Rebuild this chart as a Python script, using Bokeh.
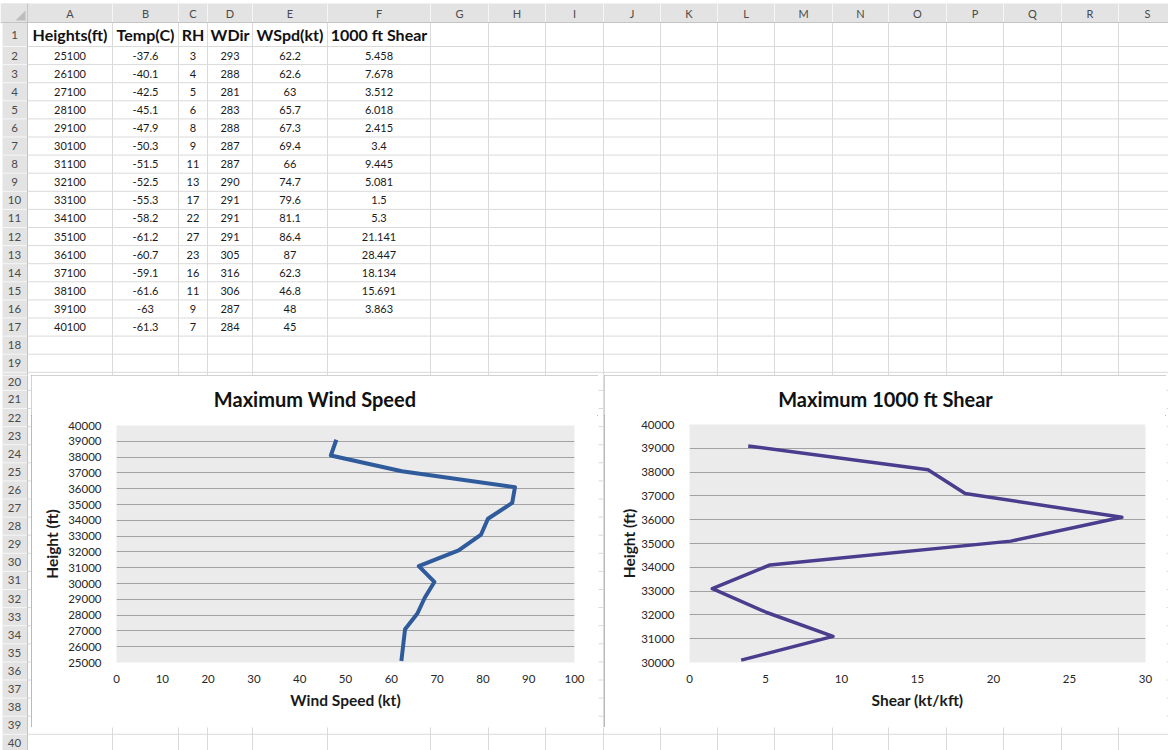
from bokeh.plotting import figure
from bokeh.layouts import column, row
from bokeh.models import Range1d, FixedTicker
from bokeh.core.properties import value
from bokeh.embed import file_html
from bokeh.resources import INLINE

# ---------------- data ----------------
heights = [25100, 26100, 27100, 28100, 29100, 30100, 31100, 32100,
           33100, 34100, 35100, 36100, 37100, 38100, 39100, 40100]
temp_c = [-37.6, -40.1, -42.5, -45.1, -47.9, -50.3, -51.5, -52.5,
          -55.3, -58.2, -61.2, -60.7, -59.1, -61.6, -63, -61.3]
rh = [3, 4, 5, 6, 8, 9, 11, 13, 17, 22, 27, 23, 16, 11, 9, 7]
wdir = [293, 288, 281, 283, 288, 287, 287, 290, 291, 291, 291, 305, 316, 306, 287, 284]
wspd = [62.2, 62.6, 63, 65.7, 67.3, 69.4, 66, 74.7, 79.6, 81.1, 86.4, 87, 62.3, 46.8, 48, 45]
shear = [5.458, 7.678, 3.512, 6.018, 2.415, 3.4, 9.445, 5.081, 1.5, 5.3,
         21.141, 28.447, 18.134, 15.691, 3.863]
col_titles = ["Heights(ft)", "Temp(C)", "RH", "WDir", "WSpd(kt)", "1000 ft Shear"]
col_letters = ["A", "B", "C", "D", "E", "F", "G", "H", "I", "J", "K", "L",
               "M", "N", "O", "P", "Q", "R", "S"]

wind_yticks = list(range(25000, 40001, 1000))
wind_xticks = list(range(0, 101, 10))
shear_yticks = list(range(30000, 40001, 1000))
shear_xticks = list(range(0, 31, 5))

# rows plotted in each chart
wind_h, wind_v = heights[:15], wspd[:15]
shear_h, shear_v = heights[5:15], shear[5:15]

# ---------------- sheet geometry (pixels) ----------------
col_edges = [27, 112, 178, 207, 252, 327, 430, 488, 545, 603, 660, 717, 774,
             832, 888, 946, 1003, 1061, 1118, 1176]
HDR_TOP, HDR_BOT, ROW1_BOT, ROW_H = 3, 22, 46, 18.1
row_edges = [HDR_BOT, ROW1_BOT] + [ROW1_BOT + k * ROW_H for k in range(1, 40)]
row_centers = [(row_edges[i] + row_edges[i + 1]) / 2 for i in range(len(row_edges) - 1)]
col_centers = [(col_edges[i] + col_edges[i + 1]) / 2 for i in range(len(col_edges) - 1)]
FONT = "Lato"
BOX_OUTLINE = {"outline": "1px solid #a3a3a3", "outline-offset": "-1px"}


def fmt(v):
    return "{:g}".format(v)


def blank(f):
    f.axis.visible = False
    f.grid.visible = False
    f.outline_line_color = None
    f.background_fill_color = "white"
    f.border_fill_color = "white"


def sheet(x0, x1, y0, y1):
    f = figure(width=x1 - x0, height=y1 - y0, x_range=Range1d(x0, x1), y_range=Range1d(y1, y0),
               output_backend="svg", toolbar_location=None, min_border=0, frame_align=False)
    blank(f)

    def inside(x, y):
        return x0 <= x <= x1 and y0 <= y <= y1

    def texts(xs, ys, ts, **kw):
        sel = [(x, y, t) for x, y, t in zip(xs, ys, ts) if inside(x, y)]
        if sel:
            f.text(x=[s[0] for s in sel], y=[s[1] for s in sel], text=[s[2] for s in sel],
                   text_font=value(FONT), text_align="center", text_baseline="middle", **kw)

    # header bands
    f.quad(left=[0], right=[1200], top=[HDR_TOP], bottom=[HDR_BOT],
           fill_color="#e3e3e3", line_color=None)
    f.quad(left=[2], right=[col_edges[0]], top=[HDR_TOP], bottom=[800],
           fill_color="#e3e3e3", line_color=None)
    # cell grid
    n = len(col_edges)
    f.segment(x0=col_edges, y0=[HDR_BOT] * n, x1=col_edges, y1=[800] * n,
              line_color="#dadada", line_width=1)
    m = len(row_edges)
    f.segment(x0=[col_edges[0]] * m, y0=row_edges, x1=[1200] * m, y1=row_edges,
              line_color="#dadada", line_width=1)
    # header separators
    f.segment(x0=col_edges, y0=[HDR_TOP] * n, x1=col_edges, y1=[HDR_BOT] * n,
              line_color="#f6f6f6", line_width=1)
    f.segment(x0=[2] * m, y0=row_edges, x1=[col_edges[0]] * m, y1=row_edges,
              line_color="#f6f6f6", line_width=1)
    f.segment(x0=[0], y0=[HDR_BOT], x1=[1200], y1=[HDR_BOT], line_color="#c4c4c4", line_width=1)
    f.segment(x0=[col_edges[0]], y0=[HDR_TOP], x1=[col_edges[0]], y1=[800],
              line_color="#c4c4c4", line_width=1)
    f.patch(x=[15, 25, 25], y=[20, 20, 10], fill_color="#bdbdbd", line_color=None)
    # column letters
    texts(col_centers, [(HDR_TOP + HDR_BOT) / 2 + 0.5] * len(col_letters), col_letters,
          text_font_size="11px", text_color="#4a4a4a")
    # row numbers
    nums = [str(i + 1) for i in range(40)]
    ryy = list(row_centers[:40])
    ryy[19] = 381.5
    texts([14] * 40, ryy, nums, text_font_size="11.5px", text_color="#4a4a4a")
    # table header
    texts(col_centers[:6], [row_centers[0]] * 6, col_titles,
          text_font_size="16px", text_font_style="bold", text_color="#111111")
    # table cells
    cols = [heights, temp_c, rh, wdir, wspd, shear]
    xs, ys, ts = [], [], []
    for ci, vals in enumerate(cols):
        for ri, v in enumerate(vals):
            xs.append(col_centers[ci])
            ys.append(row_centers[ri + 1])
            ts.append(fmt(v))
    texts(xs, ys, ts, text_font_size="11px", text_color="#1a1a1a")
    return f


def title_strip(text, w, hgt, cy):
    f = figure(width=w, height=hgt, x_range=Range1d(0, w), y_range=Range1d(hgt, 0),
               output_backend="svg", toolbar_location=None, min_border=0, frame_align=False)
    blank(f)
    f.text(x=[w / 2], y=[cy], text=[text], text_font=value(FONT), text_font_size="20px",
           text_font_style="bold", text_color="#111111",
           text_align="center", text_baseline="middle")
    return f


def chart(title, xs, ys, xmax, xticks, ymin, yticks, color, lw, xlabel,
          w, h, left, right, top, bottom, ystand):
    strip_h = 40
    p = figure(width=w, height=h - strip_h, x_range=Range1d(0, xmax), y_range=Range1d(ymin, 40000),
               output_backend="svg", toolbar_location=None, frame_align=False,
               min_border_left=left, min_border_right=right,
               min_border_top=top - strip_h, min_border_bottom=bottom)
    p.title.visible = False
    p.background_fill_color = "#ebebeb"
    p.border_fill_color = "white"
    p.outline_line_color = None
    p.xgrid.visible = False
    p.ygrid.ticker = FixedTicker(ticks=yticks)
    p.ygrid.grid_line_color = "#a2a2a2"
    p.ygrid.grid_line_width = 1
    p.yaxis.ticker = FixedTicker(ticks=yticks)
    p.xaxis.ticker = FixedTicker(ticks=xticks)
    for ax in (p.xaxis[0], p.yaxis[0]):
        ax.axis_line_color = None
        ax.major_tick_line_color = None
        ax.minor_tick_line_color = None
        ax.major_label_text_font = FONT
        ax.major_label_text_font_size = "11.5px"
        ax.major_label_text_color = "#262626"
        ax.axis_label_text_font = FONT
        ax.axis_label_text_font_size = "15.5px"
        ax.axis_label_text_font_style = "bold"
        ax.axis_label_text_color = "#1a1a1a"
    p.xaxis.major_label_standoff = 6
    p.yaxis.major_label_standoff = 9
    p.xaxis.axis_label = xlabel
    p.yaxis.axis_label = "Height (ft)"
    p.xaxis.axis_label_standoff = 5
    p.yaxis.axis_label_standoff = ystand
    p.line(xs, ys, line_color=color, line_width=lw, line_join="round")
    ts = title_strip(title, w, strip_h, 23)
    return column(ts, p, styles=BOX_OUTLINE)


top = sheet(0, 1168, 0, 375)
left = sheet(0, 31, 375, 750)
gap = sheet(598, 604, 375, 727)
rstrip = sheet(1166, 1168, 375, 727)
bottom = sheet(31, 1168, 727, 750)

c1 = chart("Maximum Wind Speed", wind_v, wind_h, 100, wind_xticks, 25000, wind_yticks,
           "#2f5a9c", 4, "Wind Speed (kt)", 567, 352, 85, 24, 50, 65, 4)
c2 = chart("Maximum 1000 ft Shear", shear_v, shear_h, 30, shear_xticks, 30000, shear_yticks,
           "#4a3d8e", 3.5, "Shear (kt/kft)", 562, 352, 85, 21, 49, 65, 0)

layout = column(top, row(left, column(row(c1, gap, c2, rstrip), bottom)))

open("out.html", "w").write(file_html(layout, INLINE))
